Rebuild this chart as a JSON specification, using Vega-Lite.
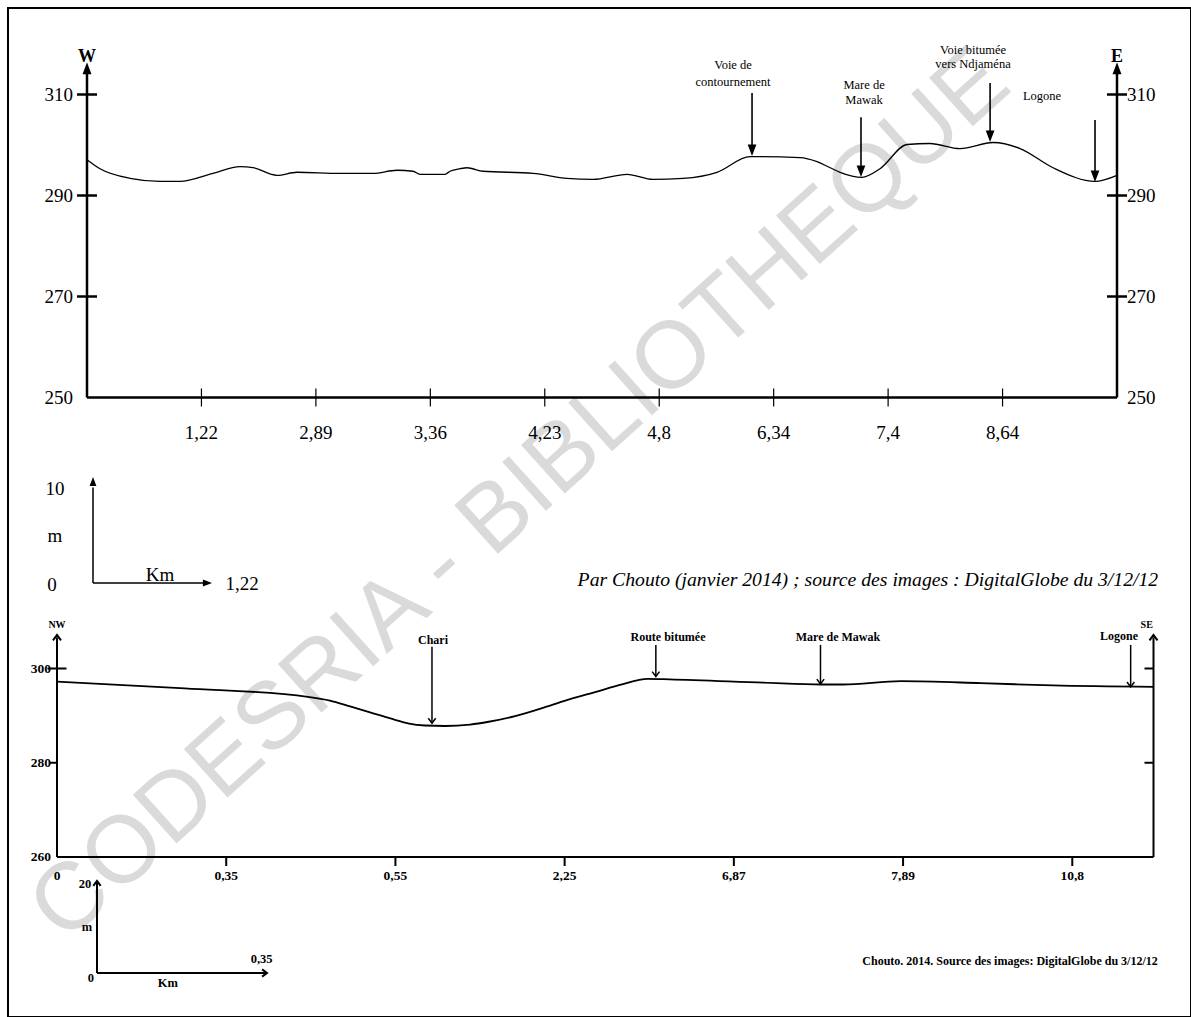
{
  "$schema": "https://vega.github.io/schema/vega-lite/v6.json",
  "width": 1183,
  "height": 1009,
  "padding": {"left": 8, "top": 8, "right": 0, "bottom": 0},
  "autosize": {"type": "none"},
  "background": "white",
  "config": {"view": {"stroke": "black", "strokeWidth": 2}},
  "resolve": {"scale": {"x": "independent", "y": "independent"}},
  "layer": [
    {
      "encoding": {
        "x": {"field": "d", "type": "quantitative", "scale": {"domain": [0, 9], "range": [79, 1109], "nice": false, "zero": false}, "axis": null},
        "y": {"field": "z", "type": "quantitative", "scale": {"domain": [250, 320], "range": [389.5, 36], "nice": false, "zero": false}, "axis": null}
      },
      "layer": [
        {
          "data": {"values": [{"d": 3.784, "z": 230.7, "t": "CODESRIA - BIBLIOTHEQUE"}]},
          "mark": {"type": "text", "font": "Liberation Sans", "fontSize": 95, "angle": 318, "color": "#dadada", "align": "center", "baseline": "middle"},
          "encoding": {"text": {"field": "t"}}
        },
        {
          "data": {"values": [
            {"d": 0, "z": 297.1}, {"d": 0.114, "z": 295.3}, {"d": 0.376, "z": 293.4}, {"d": 0.638, "z": 292.8},
            {"d": 0.813, "z": 292.8}, {"d": 1.101, "z": 294.4}, {"d": 1.337, "z": 295.7}, {"d": 1.451, "z": 295.5},
            {"d": 1.66, "z": 294.0}, {"d": 1.835, "z": 294.6}, {"d": 2.211, "z": 294.4}, {"d": 2.499, "z": 294.4},
            {"d": 2.709, "z": 295.0}, {"d": 2.849, "z": 294.8}, {"d": 2.91, "z": 294.2}, {"d": 3.128, "z": 294.2},
            {"d": 3.172, "z": 294.8}, {"d": 3.259, "z": 295.3}, {"d": 3.321, "z": 295.5}, {"d": 3.46, "z": 294.8},
            {"d": 3.897, "z": 294.4}, {"d": 4.194, "z": 293.4}, {"d": 4.422, "z": 293.2}, {"d": 4.719, "z": 294.2},
            {"d": 4.946, "z": 293.2}, {"d": 5.208, "z": 293.4}, {"d": 5.505, "z": 294.6}, {"d": 5.793, "z": 297.7},
            {"d": 6.23, "z": 297.5}, {"d": 6.379, "z": 296.7}, {"d": 6.493, "z": 295.5}, {"d": 6.58, "z": 294.6},
            {"d": 6.772, "z": 293.6}, {"d": 6.929, "z": 295.3}, {"d": 7.165, "z": 300.1}, {"d": 7.366, "z": 300.3},
            {"d": 7.628, "z": 299.3}, {"d": 7.917, "z": 300.5}, {"d": 8.153, "z": 299.3}, {"d": 8.441, "z": 295.5},
            {"d": 8.808, "z": 292.8}, {"d": 9.0, "z": 294.0}
          ]},
          "mark": {"type": "line", "color": "black", "strokeWidth": 1.3, "interpolate": "monotone"}
        },
        {
          "data": {"values": [
            {"d": 0, "z": 250, "d2": 0, "z2": 314.5},
            {"d": 9, "z": 250, "d2": 9, "z2": 314.5},
            {"d": 0, "z": 250, "d2": 9, "z2": 250}
          ]},
          "mark": {"type": "rule", "color": "black", "strokeWidth": 2.5},
          "encoding": {"x2": {"field": "d2"}, "y2": {"field": "z2"}}
        },
        {
          "data": {"values": [{"d": 0, "z": 316.4}, {"d": 9, "z": 316.4}]},
          "mark": {"type": "point", "shape": "M0,0L-0.6,1.6L0.6,1.6Z", "filled": true, "size": 225, "color": "black", "opacity": 1}
        },
        {
          "data": {"values": [
            {"d": 0, "z": 270}, {"d": 0, "z": 290}, {"d": 0, "z": 310},
            {"d": 9, "z": 270}, {"d": 9, "z": 290}, {"d": 9, "z": 310}
          ]},
          "mark": {"type": "tick", "orient": "horizontal", "size": 20, "thickness": 2.5, "color": "black", "opacity": 1}
        },
        {
          "data": {"values": [
            {"d": 1, "z": 250}, {"d": 2, "z": 250}, {"d": 3, "z": 250}, {"d": 4, "z": 250},
            {"d": 5, "z": 250}, {"d": 6, "z": 250}, {"d": 7, "z": 250}, {"d": 8, "z": 250}
          ]},
          "mark": {"type": "tick", "orient": "vertical", "size": 18, "thickness": 1.2, "color": "black", "opacity": 1}
        },
        {
          "data": {"values": [
            {"d": 0, "z": 250, "t": "250"}, {"d": 0, "z": 270, "t": "270"},
            {"d": 0, "z": 290, "t": "290"}, {"d": 0, "z": 310, "t": "310"}
          ]},
          "mark": {"type": "text", "font": "Liberation Serif", "fontSize": 19, "align": "right", "baseline": "middle", "dx": -14, "color": "black"},
          "encoding": {"text": {"field": "t"}}
        },
        {
          "data": {"values": [
            {"d": 9, "z": 250, "t": "250"}, {"d": 9, "z": 270, "t": "270"},
            {"d": 9, "z": 290, "t": "290"}, {"d": 9, "z": 310, "t": "310"}
          ]},
          "mark": {"type": "text", "font": "Liberation Serif", "fontSize": 19, "align": "left", "baseline": "middle", "dx": 10, "color": "black"},
          "encoding": {"text": {"field": "t"}}
        },
        {
          "data": {"values": [
            {"d": 1, "z": 250, "t": "1,22"}, {"d": 2, "z": 250, "t": "2,89"}, {"d": 3, "z": 250, "t": "3,36"},
            {"d": 4, "z": 250, "t": "4,23"}, {"d": 5, "z": 250, "t": "4,8"}, {"d": 6, "z": 250, "t": "6,34"},
            {"d": 7, "z": 250, "t": "7,4"}, {"d": 8, "z": 250, "t": "8,64"}
          ]},
          "mark": {"type": "text", "font": "Liberation Serif", "fontSize": 19, "align": "center", "baseline": "middle", "dy": 35, "color": "black"},
          "encoding": {"text": {"field": "t"}}
        },
        {
          "data": {"values": [{"d": 0, "z": 317.4, "t": "W"}, {"d": 9, "z": 317.4, "t": "E"}]},
          "mark": {"type": "text", "font": "Liberation Serif", "fontSize": 18, "fontWeight": "bold", "align": "center", "baseline": "middle", "color": "black"},
          "encoding": {"text": {"field": "t"}}
        },
        {
          "data": {"values": [
            {"d": 5.645, "z": 315.84, "t": "Voie de"},
            {"d": 5.645, "z": 312.48, "t": "contournement"},
            {"d": 6.79, "z": 311.88, "t": "Mare de"},
            {"d": 6.79, "z": 308.91, "t": "Mawak"},
            {"d": 7.742, "z": 318.81, "t": "Voie bitumée"},
            {"d": 7.742, "z": 316.04, "t": "vers Ndjaména"},
            {"d": 8.345, "z": 309.7, "t": "Logone"}
          ]},
          "mark": {"type": "text", "font": "Liberation Serif", "fontSize": 12.5, "align": "center", "baseline": "middle", "color": "black"},
          "encoding": {"text": {"field": "t"}}
        },
        {
          "data": {"values": [
            {"d": 5.811, "z": 310.28, "d2": 5.811, "z2": 299.5},
            {"d": 6.763, "z": 305.5, "d2": 6.763, "z2": 295.5},
            {"d": 7.891, "z": 312.28, "d2": 7.891, "z2": 302.3},
            {"d": 8.808, "z": 304.95, "d2": 8.808, "z2": 294.5}
          ]},
          "mark": {"type": "rule", "color": "black", "strokeWidth": 1.6},
          "encoding": {"x2": {"field": "d2"}, "y2": {"field": "z2"}}
        },
        {
          "data": {"values": [
            {"d": 5.811, "z": 297.82}, {"d": 6.763, "z": 293.66}, {"d": 7.891, "z": 300.59}, {"d": 8.808, "z": 292.67}
          ]},
          "mark": {"type": "point", "shape": "M0,0L-0.6,-1.6L0.6,-1.6Z", "filled": true, "size": 210, "color": "black", "opacity": 1}
        }
      ]
    },
    {
      "encoding": {
        "x": {"field": "d", "type": "quantitative", "scale": {"domain": [0, 6.48], "range": [49, 1145.5], "nice": false, "zero": false}, "axis": null},
        "y": {"field": "z", "type": "quantitative", "scale": {"domain": [260, 300], "range": [849, 660.5], "nice": false, "zero": false}, "axis": null}
      },
      "layer": [
        {
          "data": {"values": [
            {"d": 0, "z": 297.2}, {"d": 0.755, "z": 295.8}, {"d": 1.482, "z": 294.0}, {"d": 1.613, "z": 293.2},
            {"d": 1.737, "z": 291.9}, {"d": 1.85, "z": 290.7}, {"d": 1.998, "z": 289.1}, {"d": 2.08, "z": 288.3},
            {"d": 2.175, "z": 287.9}, {"d": 2.293, "z": 287.8}, {"d": 2.441, "z": 288.1}, {"d": 2.551, "z": 288.7},
            {"d": 2.707, "z": 289.9}, {"d": 2.893, "z": 291.9}, {"d": 3.032, "z": 293.5}, {"d": 3.191, "z": 295.1},
            {"d": 3.327, "z": 296.5}, {"d": 3.491, "z": 297.8}, {"d": 3.62, "z": 297.7}, {"d": 4.176, "z": 297.0},
            {"d": 4.518, "z": 296.6}, {"d": 4.645, "z": 296.6}, {"d": 4.988, "z": 297.3}, {"d": 5.459, "z": 296.9},
            {"d": 5.886, "z": 296.4}, {"d": 6.48, "z": 296.1}
          ]},
          "mark": {"type": "line", "color": "black", "strokeWidth": 1.8, "interpolate": "monotone"}
        },
        {
          "data": {"values": [
            {"d": 0, "z": 260, "d2": 0, "z2": 306.6},
            {"d": 6.48, "z": 260, "d2": 6.48, "z2": 306.6},
            {"d": 0, "z": 260, "d2": 6.48, "z2": 260}
          ]},
          "mark": {"type": "rule", "color": "black", "strokeWidth": 2},
          "encoding": {"x2": {"field": "d2"}, "y2": {"field": "z2"}}
        },
        {
          "data": {"values": [{"d": 0, "z": 307.1}, {"d": 6.48, "z": 307.1}]},
          "mark": {"type": "point", "shape": "M-0.6,0.8L0,0L0.6,0.8", "filled": false, "size": 180, "color": "black", "strokeWidth": 2, "opacity": 1}
        },
        {
          "data": {"values": [{"d": 0, "z": 300}]},
          "mark": {"type": "tick", "orient": "horizontal", "size": 19, "thickness": 2, "color": "black", "opacity": 1}
        },
        {
          "data": {"values": [{"d": 0, "z": 280}]},
          "mark": {"type": "tick", "orient": "horizontal", "size": 7, "thickness": 2, "xOffset": -3.5, "color": "black", "opacity": 1}
        },
        {
          "data": {"values": [{"d": 6.48, "z": 300}, {"d": 6.48, "z": 280}]},
          "mark": {"type": "tick", "orient": "horizontal", "size": 9, "thickness": 2, "xOffset": -4.5, "color": "black", "opacity": 1}
        },
        {
          "data": {"values": [
            {"d": 1, "z": 260}, {"d": 2, "z": 260}, {"d": 3, "z": 260},
            {"d": 4, "z": 260}, {"d": 5, "z": 260}, {"d": 6, "z": 260}
          ]},
          "mark": {"type": "tick", "orient": "vertical", "size": 9, "thickness": 2, "yOffset": 4.5, "color": "black", "opacity": 1}
        },
        {
          "data": {"values": [
            {"d": 0, "z": 260, "t": "260"}, {"d": 0, "z": 280, "t": "280"}, {"d": 0, "z": 300, "t": "300"}
          ]},
          "mark": {"type": "text", "font": "Liberation Serif", "fontSize": 13.5, "fontWeight": "bold", "align": "right", "baseline": "middle", "dx": -6, "color": "black"},
          "encoding": {"text": {"field": "t"}}
        },
        {
          "data": {"values": [
            {"d": 0, "z": 260, "t": "0"}, {"d": 1, "z": 260, "t": "0,35"}, {"d": 2, "z": 260, "t": "0,55"},
            {"d": 3, "z": 260, "t": "2,25"}, {"d": 4, "z": 260, "t": "6,87"}, {"d": 5, "z": 260, "t": "7,89"},
            {"d": 6, "z": 260, "t": "10,8"}
          ]},
          "mark": {"type": "text", "font": "Liberation Serif", "fontSize": 13.5, "fontWeight": "bold", "align": "center", "baseline": "middle", "dy": 19, "color": "black"},
          "encoding": {"text": {"field": "t"}}
        },
        {
          "data": {"values": [{"d": 0, "z": 309.2, "t": "NW"}, {"d": 6.44, "z": 309.2, "t": "SE"}]},
          "mark": {"type": "text", "font": "Liberation Serif", "fontSize": 10, "fontWeight": "bold", "align": "center", "baseline": "middle", "color": "black"},
          "encoding": {"text": {"field": "t"}}
        },
        {
          "data": {"values": [
            {"d": 2.222, "z": 306.05, "t": "Chari"},
            {"d": 3.611, "z": 306.7, "t": "Route bitumée"},
            {"d": 4.615, "z": 306.7, "t": "Mare de Mawak"},
            {"d": 6.276, "z": 306.9, "t": "Logone"}
          ]},
          "mark": {"type": "text", "font": "Liberation Serif", "fontSize": 12, "fontWeight": "bold", "align": "center", "baseline": "middle", "color": "black"},
          "encoding": {"text": {"field": "t"}}
        },
        {
          "data": {"values": [
            {"d": 2.216, "z": 304.6, "d2": 2.216, "z2": 288.4},
            {"d": 3.539, "z": 305.0, "d2": 3.539, "z2": 298.3},
            {"d": 4.512, "z": 305.0, "d2": 4.512, "z2": 296.7},
            {"d": 6.345, "z": 305.0, "d2": 6.345, "z2": 296.1}
          ]},
          "mark": {"type": "rule", "color": "black", "strokeWidth": 1.5},
          "encoding": {"x2": {"field": "d2"}, "y2": {"field": "z2"}}
        },
        {
          "data": {"values": [
            {"d": 2.216, "z": 288.4}, {"d": 3.539, "z": 298.3}, {"d": 4.512, "z": 296.7}, {"d": 6.345, "z": 296.1}
          ]},
          "mark": {"type": "point", "shape": "M-0.6,-0.8L0,0L0.6,-0.8", "filled": false, "size": 150, "color": "black", "strokeWidth": 1.5, "opacity": 1}
        }
      ]
    },
    {
      "encoding": {
        "x": {"field": "km", "type": "quantitative", "scale": {"domain": [0, 1.22], "range": [85, 204], "nice": false, "zero": false}, "axis": null},
        "y": {"field": "m", "type": "quantitative", "scale": {"domain": [0, 10], "range": [575, 469], "nice": false, "zero": false}, "axis": null}
      },
      "layer": [
        {
          "data": {"values": [
            {"km": 0, "m": 0, "km2": 0, "m2": 9},
            {"km": 0, "m": 0, "km2": 1.15, "m2": 0}
          ]},
          "mark": {"type": "rule", "color": "black", "strokeWidth": 1.5},
          "encoding": {"x2": {"field": "km2"}, "y2": {"field": "m2"}}
        },
        {
          "data": {"values": [{"km": 0, "m": 10}]},
          "mark": {"type": "point", "shape": "M0,0L-0.6,1.6L0.6,1.6Z", "filled": true, "size": 130, "color": "black", "opacity": 1}
        },
        {
          "data": {"values": [{"km": 1.22, "m": 0}]},
          "mark": {"type": "point", "shape": "M0,0L-1.6,-0.6L-1.6,0.6Z", "filled": true, "size": 130, "color": "black", "opacity": 1}
        },
        {
          "data": {"values": [
            {"km": -0.39, "m": 8.9, "t": "10"},
            {"km": -0.39, "m": 4.4, "t": "m"},
            {"km": -0.42, "m": -0.2, "t": "0"},
            {"km": 0.687, "m": 0.75, "t": "Km"},
            {"km": 1.53, "m": -0.1, "t": "1,22"}
          ]},
          "mark": {"type": "text", "font": "Liberation Serif", "fontSize": 19, "align": "center", "baseline": "middle", "color": "black"},
          "encoding": {"text": {"field": "t"}}
        },
        {
          "data": {"values": [{"km": 10.92, "m": 0.28, "t": "Par Chouto (janvier 2014) ; source des images : DigitalGlobe du 3/12/12"}]},
          "mark": {"type": "text", "font": "Liberation Serif", "fontSize": 19.7, "fontStyle": "italic", "align": "right", "baseline": "middle", "color": "black"},
          "encoding": {"text": {"field": "t"}}
        }
      ]
    },
    {
      "encoding": {
        "x": {"field": "km", "type": "quantitative", "scale": {"domain": [0, 0.35], "range": [89, 259], "nice": false, "zero": false}, "axis": null},
        "y": {"field": "m", "type": "quantitative", "scale": {"domain": [0, 20], "range": [965, 873], "nice": false, "zero": false}, "axis": null}
      },
      "layer": [
        {
          "data": {"values": [
            {"km": 0, "m": 0, "km2": 0, "m2": 20},
            {"km": 0, "m": 0, "km2": 0.35, "m2": 0}
          ]},
          "mark": {"type": "rule", "color": "black", "strokeWidth": 2},
          "encoding": {"x2": {"field": "km2"}, "y2": {"field": "m2"}}
        },
        {
          "data": {"values": [{"km": 0, "m": 20}]},
          "mark": {"type": "point", "shape": "M-0.6,0.8L0,0L0.6,0.8", "filled": false, "size": 150, "color": "black", "strokeWidth": 2, "opacity": 1}
        },
        {
          "data": {"values": [{"km": 0.35, "m": 0}]},
          "mark": {"type": "point", "shape": "M-0.8,-0.6L0,0L-0.8,0.6", "filled": false, "size": 150, "color": "black", "strokeWidth": 2, "opacity": 1}
        },
        {
          "data": {"values": [
            {"km": -0.0247, "m": 19.35, "t": "20"},
            {"km": -0.0206, "m": 10.0, "t": "m"},
            {"km": -0.0124, "m": -1.09, "t": "0"},
            {"km": 0.146, "m": -2.17, "t": "Km"},
            {"km": 0.339, "m": 3.04, "t": "0,35"}
          ]},
          "mark": {"type": "text", "font": "Liberation Serif", "fontSize": 12.5, "fontWeight": "bold", "align": "center", "baseline": "middle", "color": "black"},
          "encoding": {"text": {"field": "t"}}
        },
        {
          "data": {"values": [{"km": 2.184, "m": 2.6, "t": "Chouto. 2014. Source des images: DigitalGlobe du 3/12/12"}]},
          "mark": {"type": "text", "font": "Liberation Serif", "fontSize": 12, "fontWeight": "bold", "align": "right", "baseline": "middle", "color": "black"},
          "encoding": {"text": {"field": "t"}}
        }
      ]
    }
  ]
}
